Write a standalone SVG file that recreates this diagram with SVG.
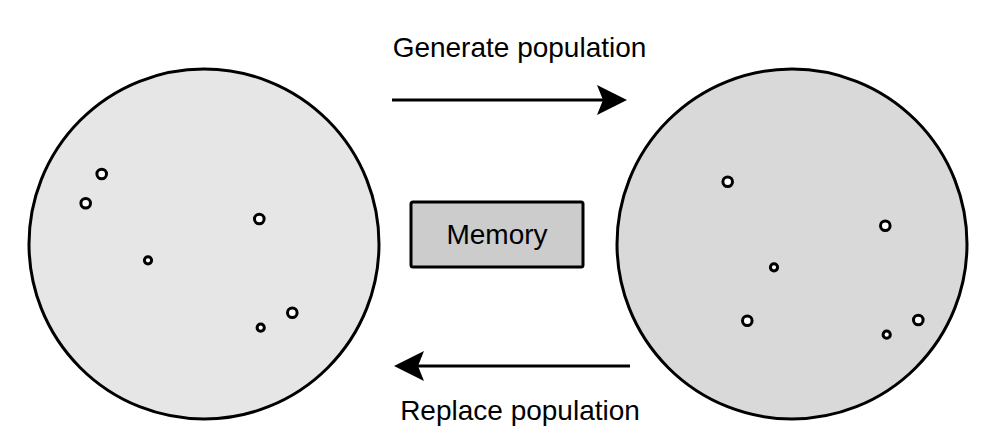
<svg xmlns="http://www.w3.org/2000/svg" width="1002" height="446" viewBox="0 0 1002 446">
  <style>
    .pop { stroke: #000; stroke-width: 3; }
    .dot { fill: #fff; stroke: #000; stroke-width: 3; }
    .lbl { font-family: "Liberation Sans", Arial, sans-serif; font-size: 28px; fill: #000; text-anchor: middle; }
    .conn { stroke: #000; stroke-width: 3; fill: none; }
  </style>
  <defs>
    <marker id="arrow" markerUnits="userSpaceOnUse" markerWidth="32" markerHeight="32" refX="8" refY="15" orient="auto" viewBox="0 0 32 32">
      <path d="M0,0 L30,15 L0,30 L6,15 Z" fill="#000"/>
    </marker>
  </defs>
  <rect width="1002" height="446" fill="#fff"/>

  <g id="population-left">
    <circle class="pop" cx="204" cy="244" r="175" fill="#e6e6e6"/>
    <circle class="dot" cx="101.7" cy="174" r="4.8"/>
    <circle class="dot" cx="85.7" cy="203.3" r="4.8"/>
    <circle class="dot" cx="259.3" cy="219" r="4.8"/>
    <circle class="dot" cx="148" cy="260.3" r="3.6"/>
    <circle class="dot" cx="292.3" cy="312.7" r="4.8"/>
    <circle class="dot" cx="260.7" cy="327.7" r="3.6"/>
  </g>

  <g id="population-right">
    <circle class="pop" cx="792" cy="244" r="175" fill="#d9d9d9"/>
    <circle class="dot" cx="727.7" cy="181.7" r="4.8"/>
    <circle class="dot" cx="885.3" cy="225.7" r="4.8"/>
    <circle class="dot" cx="774" cy="267.3" r="3.6"/>
    <circle class="dot" cx="747.3" cy="320.7" r="4.8"/>
    <circle class="dot" cx="918.3" cy="320" r="4.8"/>
    <circle class="dot" cx="886.7" cy="334.7" r="3.6"/>
  </g>

  <g id="memory">
    <rect x="411" y="202" width="172" height="65" rx="2" fill="#cccccc" stroke="#000" stroke-width="3"/>
    <text class="lbl" x="497" y="244">Memory</text>
  </g>

  <g id="connectors">
    <line class="conn" x1="392" y1="100" x2="605" y2="100" marker-end="url(#arrow)"/>
    <text class="lbl" x="519.5" y="57">Generate population</text>
    <line class="conn" x1="630" y1="366" x2="416" y2="366" marker-end="url(#arrow)"/>
    <text class="lbl" x="520" y="420">Replace population</text>
  </g>
</svg>
